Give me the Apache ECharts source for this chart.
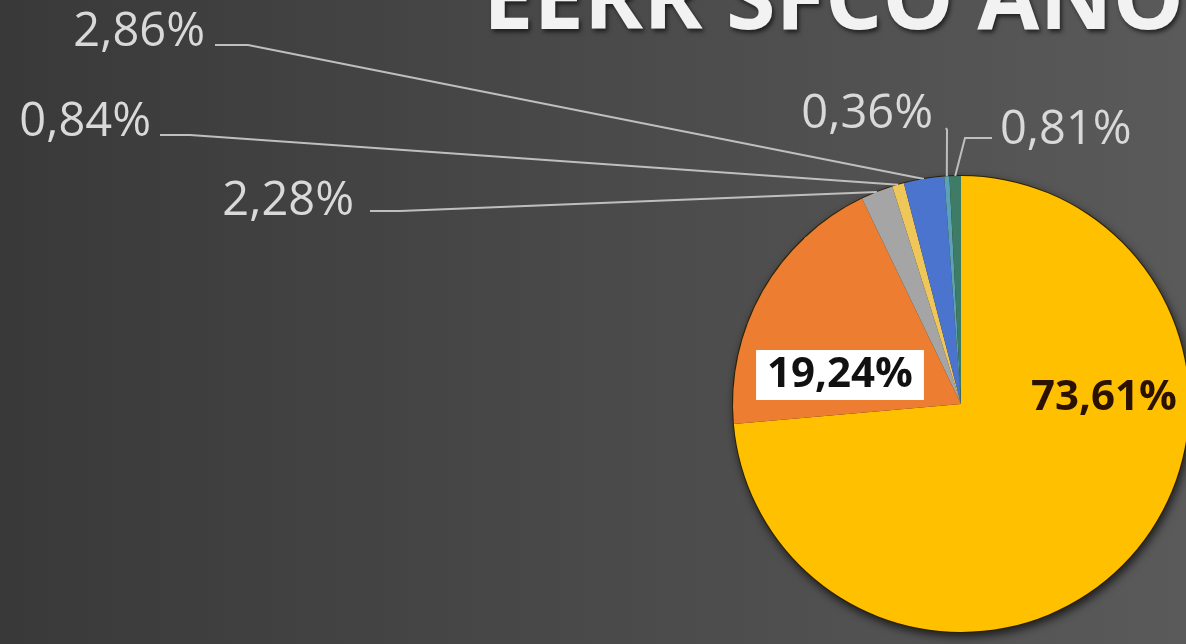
<!DOCTYPE html>
<html>
<head>
	<meta charset="utf-8">
	<style>
		html, body {
			margin: 0;
			padding: 0;
			width: 100%;
			height: 100%;
			overflow: hidden;
		}
		#pieChart {
			width: 1186px;
			height: 644px;
		}
	</style>
</head>
<body>
	<div id="pieChart"></div>
	<script src="https://cdn.jsdelivr.net/npm/echarts@6/dist/echarts.min.js"></script>
	<script>
	// datos del grafico (porcentajes)
	var titleText = 'EERR SFCO AÑO';
	var categories = ['Partida 1', 'Partida 2', 'Partida 3', 'Partida 4', 'Partida 5', 'Partida 6', 'Partida 7'];
	var shares = [73.61, 19.24, 2.28, 0.84, 2.86, 0.36, 0.81];
	var sliceColors = ['#FFC000', '#ED7D31', '#A5A5A5', '#EEC659', '#4A74CE', '#5BA3B4', '#3E7C68'];

	// donde va cada etiqueta: x, y, alineacion, y puntos de la linea guia
	var labelSpots = [
		{ x: 1104, y: 398, align: 'center' },
		{ x: 840, y: 375, align: 'center' },
		{ x: 354, y: 202, align: 'right', end: [370, 211], bend: [400, 211] },
		{ x: 151, y: 123, align: 'right', end: [160, 135], bend: [190, 135] },
		{ x: 205, y: 33, align: 'right', end: [215, 45], bend: [248, 45] },
		{ x: 933, y: 115, align: 'right', end: [946, 128], bend: [947, 130] },
		{ x: 1000, y: 131, align: 'left', end: [992, 138], bend: [965, 138] }
	];

	var fmt = function(v) {
		return v.toFixed(2).replace('.', ',') + '%';
	};

	var pieData = shares.map(function(v, i) {
		var item = {
			name: categories[i],
			value: v,
			itemStyle: { color: sliceColors[i] }
		};
		if (i === 0) {
			item.label = { position: 'inside', color: '#2b1200', fontWeight: 'bold', fontSize: 42 };
		} else if (i === 1) {
			item.label = {
				position: 'inside', color: '#111', fontWeight: 'bold', fontSize: 42,
				backgroundColor: '#ffffff', padding: [5, 11, 3, 11]
			};
		}
		return item;
	});

	var total = shares.reduce(function(a, b) { return a + b; }, 0);

	var chart = echarts.init(document.getElementById('pieChart'));
	chart.setOption({
		backgroundColor: {
			type: 'linear', x: 0, y: 0, x2: 1, y2: 0,
			colorStops: [
				{ offset: 0, color: '#393939' },
				{ offset: 1, color: '#5a5a5a' }
			]
		},
		animation: false,
		title: {
			text: titleText,
			left: 478,
			top: -47,
			textStyle: {
				fontFamily: 'Open Sans',
				fontSize: 90,
				fontWeight: 'bold',
				color: '#f2f2f2',
				textShadowColor: 'rgba(0,0,0,0.6)',
				textShadowBlur: 4,
				textShadowOffsetX: 2,
				textShadowOffsetY: 3
			}
		},
		series: [
			{
				// sombra bajo el pastel
				type: 'pie',
				silent: true,
				center: [961, 404],
				radius: 229,
				z: 1,
				label: { show: false },
				labelLine: { show: false },
				data: [{ value: total, itemStyle: {
					color: '#2e2100',
					shadowColor: 'rgba(0,0,0,0.65)',
					shadowBlur: 9,
					shadowOffsetX: 2,
					shadowOffsetY: 4
				} }]
			},
			{
				type: 'pie',
				center: [961, 404],
				radius: 228,
				startAngle: 90,
				clockwise: true,
				z: 2,
				avoidLabelOverlap: false,
				label: {
					show: true,
					position: 'outside',
					formatter: function(p) { return fmt(p.value); },
					fontFamily: 'Open Sans',
					fontSize: 47,
					color: '#d9d9d9'
				},
				labelLine: {
					show: true,
					length: 10,
					length2: 10,
					lineStyle: { color: '#bfbfbf', width: 2 }
				},
				labelLayout: function(params) {
					var s = labelSpots[params.dataIndex];
					var out = { x: s.x, y: s.y, align: s.align, verticalAlign: 'middle' };
					if (s.end && params.labelLinePoints) {
						out.labelLinePoints = [params.labelLinePoints[0], s.bend, s.end];
					}
					return out;
				},
				data: pieData
			}
		]
	});
	</script>
</body>
</html>
